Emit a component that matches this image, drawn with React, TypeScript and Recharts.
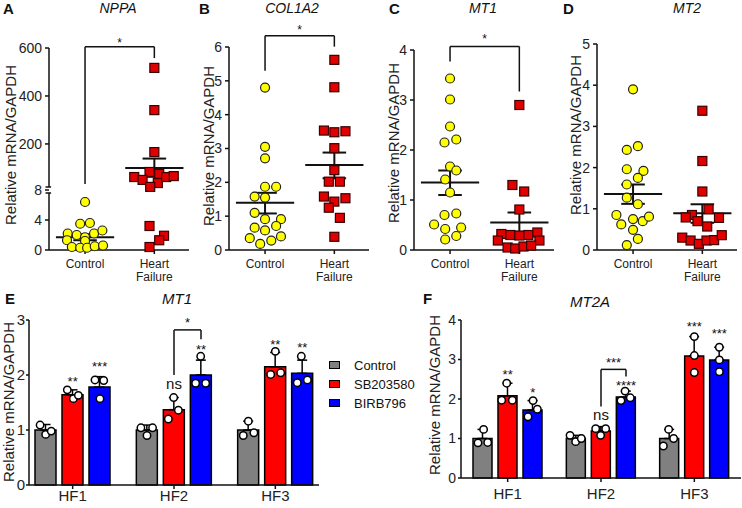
import React from "react";
import {
  ComposedChart,
  Scatter,
  Bar,
  XAxis,
  YAxis,
  ReferenceLine,
  ReferenceDot,
  ErrorBar,
} from "recharts";

const FONT = "'Liberation Sans', Arial, Helvetica, sans-serif";
const INK = "#111";
const TICK_INK = "#222";

// ---- top row: patient scatter panels (x = 1 Control, x = 2 Heart Failure) ----
const GROUP_LABELS = ["Control", "Heart\nFailure"];

// A: NPPA, broken axis 0-8 / 8-600
const NPPA_TICKS = [0, 4, 8, 200, 400, 600];
const NPPA_CTRL = [6.4, 3.5, 3.6, 2.2, 2.0, 1.7, 2.2, 2.6, 1.3, 1.2, 0.4, 0.3, 0.3, 0.5, 0.6];
const NPPA_CTRL_DX = [0, -0.07, 0.07, -0.25, -0.12, 0, 0.13, 0.25, -0.26, 0, -0.19, -0.07, 0.03, 0.14, 0.26];
const NPPA_HF = [517, 341, 166, 83, 75, 62, 50, 37, 62, 66, 21, 3.2, 1.9, 1.3, 0.4];
const NPPA_HF_DX = [0, 0, 0, -0.07, 0.07, -0.29, -0.17, 0.05, 0.17, 0.28, -0.06, -0.07, 0.14, 0.07, -0.07];
const NPPA_MEAN = [1.7, 100];
const NPPA_SEM = [[1.3, 2.1], [63, 139]];
const NPPA_BRACKET = { top: 605, left: 33, right: 558, star: 633 };

// B: COL1A2
const COL_TICKS = [0, 1, 2, 3, 4, 5, 6];
const COL_CTRL = [4.8, 3.05, 2.71, 1.87, 1.87, 1.58, 1.55, 1.1, 0.91, 0.91, 0.66, 0.58, 0.71, 0.35, 0.4, 0.18, 0.28];
const COL_CTRL_DX = [0, 0, 0, 0, 0.16, -0.15, 0, -0.15, 0, 0.23, -0.15, 0, 0.16, -0.22, 0.23, -0.07, 0.09];
const COL_HF = [5.62, 4.81, 3.53, 3.48, 3.51, 3.01, 2.36, 2.02, 2.02, 1.58, 1.43, 1.53, 1.25, 0.95, 0.39];
const COL_HF_DX = [0, 0, -0.15, 0, 0.16, 0, 0, -0.08, 0.08, -0.15, 0, 0.16, -0.08, 0.08, 0];
const COL_MEAN = [1.4, 2.51];
const COL_SEM = [[1.08, 1.69], [2.12, 2.88]];
const COL_BRACKET = { top: 6.33, left: 5.3, right: 6.01, star: 6.58 };

// C: MT1
const MT1_TICKS = [0, 1, 2, 3, 4];
const MT1_CTRL = [3.43, 3.01, 2.47, 2.15, 2.21, 1.67, 1.59, 1.41, 1.15, 0.7, 0.73, 0.51, 0.42, 0.45, 0.21, 0.28];
const MT1_CTRL_DX = [0, 0, 0, -0.08, 0.09, 0, 0.09, -0.07, 0, -0.08, 0.09, -0.23, -0.07, 0.16, -0.07, 0.09];
const MT1_HF = [2.9, 1.3, 1.17, 0.81, 0.32, 0.3, 0.29, 0.3, 0.35, 0.19, 0.19, 0.05, 0.03, 0.07, 0.09];
const MT1_HF_DX = [0, -0.1, 0.07, 0, -0.26, -0.13, 0, 0.13, 0.26, -0.31, 0.29, -0.17, -0.06, 0.06, 0.17];
const MT1_MEAN = [1.35, 0.55];
const MT1_SEM = [[1.1, 1.59], [0.33, 0.75]];
const MT1_BRACKET = { top: 4.07, left: 3.77, right: 3.17, star: 4.27 };

// D: MT2
const MT2_TICKS = [0, 1, 2, 3, 4, 5];
const MT2_CTRL = [3.9, 2.43, 2.52, 1.96, 1.92, 1.75, 1.59, 1.27, 1.11, 0.85, 0.75, 0.7, 0.81, 0.62, 0.49, 0.27, 0.12];
const MT2_CTRL_DX = [0, -0.09, 0.07, -0.09, 0.15, 0.07, -0.09, -0.09, 0.07, -0.24, 0, 0.14, 0.23, -0.17, 0, 0.07, -0.09];
const MT2_HF = [3.38, 2.16, 1.42, 0.99, 0.85, 0.79, 0.7, 0.78, 0.57, 0.3, 0.23, 0.15, 0.23, 0.24, 0.36];
const MT2_HF_DX = [0, 0, 0, 0.09, -0.15, -0.24, -0.07, 0.24, 0.07, -0.29, -0.17, -0.05, 0.06, 0.17, 0.28];
const MT2_MEAN = [1.36, 0.89];
const MT2_SEM = [[1.12, 1.59], [0.66, 1.11]];

// ---- bottom row: cultured slices, bars = mean, whisker = SD ----
const HF_CATS = ["HF1", "HF2", "HF3"];
const TREATMENTS = ["Control", "SB203580", "BIRB796"];
const BAR_COLORS = ["#808080", "#ff0000", "#0000ff"];

// E: MT1
const E_CTRL = [1.0, 1.0, 1.0];
const E_SB = [1.64, 1.37, 2.15];
const E_BIRB = [1.78, 2.0, 2.03];
const E_CTRL_SD = [0.1, 0.09, 0.16];
const E_SB_SD = [0.09, 0.22, 0.26];
const E_BIRB_SD = [0.19, 0.27, 0.24];
const E_CTRL_PTS = [[1.09, 0.92, 0.98], [1.04, 0.9, 1.04], [1.16, 0.9, 0.95]];
const E_SB_PTS = [[1.73, 1.57, 1.63], [1.59, 1.2, 1.36], [2.43, 2.01, 2.04]];
const E_BIRB_PTS = [[1.91, 1.9, 1.57], [2.34, 1.85, 1.85], [2.34, 1.86, 1.91]];
const E_CTRL_DX = [[-0.055, 0, 0.055], [-0.06, 0, 0.055], [0, -0.05, 0.055]];
const E_SB_DX = [[-0.053, 0.007, 0.056], [-0.003, -0.056, 0.043], [0, -0.046, 0.053]];
const E_BIRB_DX = [[-0.046, 0.04, 0.003], [-0.003, -0.053, 0.046], [-0.01, -0.05, 0.05]];
const E_MARKS = [
  { g: 0, b: 1, y: 1.94, t: "**" },
  { g: 0, b: 2, y: 2.21, t: "***" },
  { g: 1, b: 1, y: 1.82, t: "ns" },
  { g: 1, b: 2, y: 2.52, t: "**" },
  { g: 2, b: 1, y: 2.61, t: "**" },
  { g: 2, b: 2, y: 2.55, t: "**" },
];
const E_BRACKET = { g: 1, top: 2.82, left: 2.0, right: 2.65, star: 3.0, t: "*" };

// F: MT2A
const F_CTRL = [1.0, 1.0, 1.0];
const F_SB = [2.08, 1.19, 3.09];
const F_BIRB = [1.72, 2.05, 2.99];
const F_CTRL_SD = [0.23, 0.08, 0.23];
const F_SB_SD = [0.32, 0.11, 0.49];
const F_BIRB_SD = [0.24, 0.15, 0.32];
const F_CTRL_PTS = [[1.23, 0.89, 0.9], [1.08, 0.92, 1.0], [1.23, 0.81, 1.0]];
const F_SB_PTS = [[2.4, 1.97, 1.97], [1.25, 1.25, 1.08], [3.58, 3.1, 2.67]];
const F_BIRB_PTS = [[1.96, 1.74, 1.55], [2.2, 1.96, 2.03], [3.31, 2.99, 2.69]];
const F_CTRL_DX = [[0.01, -0.05, 0.054], [-0.064, -0.004, 0.057], [-0.007, -0.064, 0.046]];
const F_SB_DX = [[-0.01, -0.064, 0.05], [-0.057, 0.05, -0.004], [0, 0, 0]];
const F_BIRB_DX = [[0.004, 0.05, -0.05], [-0.01, -0.054, 0.046], [0, 0, 0]];
const F_MARKS = [
  { g: 0, b: 1, y: 2.69, t: "**" },
  { g: 0, b: 2, y: 2.25, t: "*" },
  { g: 1, b: 1, y: 1.57, t: "ns" },
  { g: 1, b: 2, y: 2.42, t: "****" },
  { g: 2, b: 1, y: 3.92, t: "***" },
  { g: 2, b: 2, y: 3.74, t: "***" },
];
const F_BRACKET = { g: 1, top: 2.75, left: 1.81, right: 2.57, star: 2.99, t: "***" };

// broken axis for NPPA: 0-8 keeps its units, 8-600 is squeezed into 18.93 units
const brk = (v: number) => (v <= 8 ? v : 8 + ((v - 8) * 18.93) / 592);
const ident = (v: number) => v;

const LINE = { stroke: INK, strokeWidth: 2, ifOverflow: "visible" as const };
const THIN = { stroke: INK, strokeWidth: 1.5, ifOverflow: "visible" as const };

function starText(t: string, fs: number) {
  const isStar = /^\*+$/.test(t);
  return (p: any) => (
    <text
      x={p.cx}
      y={p.cy + (isStar ? 0.57 : 0.28) * fs}
      textAnchor="middle"
      fontSize={fs}
      fontFamily={FONT}
      fill={INK}
    >
      {t}
    </text>
  );
}

const yellowDot = (p: any) => (
  <circle cx={p.cx} cy={p.cy} r={4.5} fill="#ffff00" stroke="#222" strokeWidth={1.2} />
);
const redSquare = (p: any) => (
  <rect x={p.cx - 4.5} y={p.cy - 4.5} width={9} height={9} fill="#e00000" stroke="#3a0000" strokeWidth={1.2} />
);
const whiteDot = (p: any) => (
  <circle cx={p.cx} cy={p.cy} r={3.7} fill="#fff" stroke="#000" strokeWidth={1.5} />
);

function CatTick(p: any) {
  const lines = GROUP_LABELS[Math.round(p.payload.value) - 1].split("\n");
  return (
    <text x={p.x} y={p.y} textAnchor="middle" fontSize={12} fill={TICK_INK} fontFamily={FONT}>
      {lines.map((l, i) => (
        <tspan key={i} x={p.x} dy={i === 0 ? "0.71em" : "1.1em"}>
          {l}
        </tspan>
      ))}
    </text>
  );
}

type Bracket = { top: number; left: number; right: number; star: number };

type SPProps = {
  left: number;
  axisTop: number;
  yMax: number;
  ticks: number[];
  ctrl: number[];
  ctrlDx: number[];
  hf: number[];
  hfDx: number[];
  mean: number[];
  sem: number[][];
  bracket?: Bracket;
  tf?: (v: number) => number;
  broken?: boolean;
};

const X0 = 0.48;
const X1 = 2.5;

function ScatterPanel({ left, axisTop, yMax, ticks, ctrl, ctrlDx, hf, hfDx, mean, sem, bracket, tf = ident, broken }: SPProps) {
  const ctrlPts = ctrl.map((v, i) => ({ x: 1 + ctrlDx[i], y: tf(v) }));
  const hfPts = hf.map((v, i) => ({ x: 2 + hfDx[i], y: tf(v) }));

  const stats: React.ReactNode[] = [];
  [1, 2].forEach((g, k) => {
    const m = tf(mean[k]);
    const lo = tf(sem[k][0]);
    const hi = tf(sem[k][1]);
    stats.push(
      <ReferenceLine key={"m" + g} segment={[{ x: g - 0.42, y: m }, { x: g + 0.42, y: m }]} {...LINE} />,
      <ReferenceLine key={"v" + g} segment={[{ x: g, y: lo }, { x: g, y: hi }]} {...LINE} />,
      <ReferenceLine key={"l" + g} segment={[{ x: g - 0.17, y: lo }, { x: g + 0.17, y: lo }]} {...LINE} />,
      <ReferenceLine key={"h" + g} segment={[{ x: g - 0.17, y: hi }, { x: g + 0.17, y: hi }]} {...LINE} />
    );
  });

  return (
    <div style={{ position: "absolute", left, top: 0 }}>
      <ComposedChart width={192} height={290} margin={{ top: axisTop, right: 3, bottom: 0, left: 0 }}>
        <XAxis
          type="number"
          dataKey="x"
          domain={[X0, X1]}
          ticks={[1, 2]}
          interval={0}
          tick={(p: any) => <CatTick {...p} />}
          tickSize={4}
          tickMargin={5}
          height={40}
          axisLine={{ stroke: INK, strokeWidth: 1.5 }}
          tickLine={{ stroke: INK, strokeWidth: 1.5 }}
        />
        <YAxis
          type="number"
          dataKey="y"
          domain={[0, yMax]}
          ticks={ticks.map(tf)}
          interval={0}
          tickFormatter={(_v: number, i: number) => String(ticks[i])}
          width={49}
          tickSize={4}
          tickMargin={3}
          axisLine={broken ? false : { stroke: INK, strokeWidth: 1.5 }}
          tickLine={{ stroke: INK, strokeWidth: 1.5 }}
          tick={{ fontSize: 14, fill: TICK_INK, fontFamily: FONT }}
        />
        {broken && [
          <ReferenceLine key="ax1" segment={[{ x: X0, y: 0 }, { x: X0, y: 7.6 }]} {...THIN} />,
          <ReferenceLine key="ax2" segment={[{ x: X0, y: 8.4 }, { x: X0, y: yMax }]} {...THIN} />,
          <ReferenceLine key="bk1" segment={[{ x: X0 - 0.05, y: 7.6 }, { x: X0 + 0.03, y: 7.6 }]} {...THIN} />,
          <ReferenceLine key="bk2" segment={[{ x: X0 - 0.05, y: 8.4 }, { x: X0 + 0.03, y: 8.4 }]} {...THIN} />,
        ]}
        <Scatter data={ctrlPts} shape={yellowDot} isAnimationActive={false} />
        <Scatter data={hfPts} shape={redSquare} isAnimationActive={false} />
        {stats}
        {bracket && [
          <ReferenceLine key="bl" segment={[{ x: 1, y: tf(bracket.left) }, { x: 1, y: tf(bracket.top) }]} {...THIN} />,
          <ReferenceLine key="bt" segment={[{ x: 1, y: tf(bracket.top) }, { x: 2, y: tf(bracket.top) }]} {...THIN} />,
          <ReferenceLine key="br" segment={[{ x: 2, y: tf(bracket.right) }, { x: 2, y: tf(bracket.top) }]} {...THIN} />,
          <ReferenceDot key="bs" x={1.5} y={tf(bracket.star)} r={0} ifOverflow="visible" shape={starText("*", 12)} />,
        ]}
      </ComposedChart>
    </div>
  );
}

type Mark = { g: number; b: number; y: number; t: string };
type BarBracket = { g: number; top: number; left: number; right: number; star: number; t: string };

type BPProps = {
  left: number;
  width: number;
  yw: number;
  yMax: number;
  yTicks: number[];
  yFs: number;
  yTickMargin: number;
  pad: number;
  barSize: number;
  barGap: number;
  off: number;
  xh: number;
  xTickMargin: number;
  vals: number[][];
  sds: number[][];
  pts: number[][][];
  dx: number[][][];
  marks: Mark[];
  bracket: BarBracket;
};

function BarPanel(p: BPProps) {
  const rows = HF_CATS.map((c, i) => ({
    name: c,
    ctrl: p.vals[0][i],
    sb: p.vals[1][i],
    birb: p.vals[2][i],
    ctrlErr: [0, p.sds[0][i]],
    sbErr: [0, p.sds[1][i]],
    birbErr: [0, p.sds[2][i]],
  }));
  const dots: { x: number; y: number }[] = [];
  HF_CATS.forEach((_c, g) => {
    [0, 1, 2].forEach((b) => {
      p.pts[b][g].forEach((v, k) => {
        dots.push({ x: g + 0.5 + (b - 1) * p.off + p.dx[b][g][k], y: v });
      });
    });
  });
  const cx = (g: number, b: number) => g + 0.5 + (b - 1) * p.off;
  const br = p.bracket;
  const keys = ["ctrl", "sb", "birb"];

  return (
    <div style={{ position: "absolute", left: p.left, top: 255 }}>
      <ComposedChart
        width={p.width}
        height={253}
        data={rows}
        margin={{ top: 65, right: 1, bottom: 0, left: 0 }}
        barGap={p.barGap}
      >
        <XAxis
          xAxisId="cat"
          dataKey="name"
          padding={{ left: p.pad, right: p.pad }}
          tickSize={4}
          tickMargin={p.xTickMargin}
          height={p.xh}
          axisLine={{ stroke: INK, strokeWidth: 1.5 }}
          tickLine={{ stroke: INK, strokeWidth: 1.5 }}
          tick={{ fontSize: 15, fill: TICK_INK, fontFamily: FONT }}
        />
        <XAxis
          xAxisId="num"
          dataKey="x"
          type="number"
          domain={[0, 3]}
          padding={{ left: p.pad, right: p.pad }}
          hide
        />
        <YAxis
          type="number"
          domain={[0, p.yMax]}
          ticks={p.yTicks}
          interval={0}
          width={p.yw}
          tickSize={3}
          tickMargin={p.yTickMargin}
          axisLine={{ stroke: INK, strokeWidth: 1.5 }}
          tickLine={{ stroke: INK, strokeWidth: 1.5 }}
          tick={{ fontSize: p.yFs, fill: TICK_INK, fontFamily: FONT }}
        />
        {keys.map((k, b) => (
          <Bar
            key={k}
            xAxisId="cat"
            dataKey={k}
            name={TREATMENTS[b]}
            fill={BAR_COLORS[b]}
            stroke="#000"
            strokeWidth={1.5}
            barSize={p.barSize}
            isAnimationActive={false}
          >
            <ErrorBar dataKey={k + "Err"} direction="y" width={5} stroke="#000" strokeWidth={1.5} />
          </Bar>
        ))}
        <Scatter xAxisId="num" data={dots} dataKey="y" shape={whiteDot} isAnimationActive={false} />
        {p.marks.map((m, i) => (
          <ReferenceDot
            key={"mk" + i}
            xAxisId="num"
            x={cx(m.g, m.b)}
            y={m.y}
            r={0}
            ifOverflow="visible"
            shape={starText(m.t, m.t === "ns" ? 15 : 13)}
          />
        ))}
        <ReferenceLine xAxisId="num" segment={[{ x: cx(br.g, 1), y: br.left }, { x: cx(br.g, 1), y: br.top }]} {...THIN} />
        <ReferenceLine xAxisId="num" segment={[{ x: cx(br.g, 1), y: br.top }, { x: cx(br.g, 2), y: br.top }]} {...THIN} />
        <ReferenceLine xAxisId="num" segment={[{ x: cx(br.g, 2), y: br.right }, { x: cx(br.g, 2), y: br.top }]} {...THIN} />
        <ReferenceDot
          xAxisId="num"
          x={(cx(br.g, 1) + cx(br.g, 2)) / 2}
          y={br.star}
          r={0}
          ifOverflow="visible"
          shape={starText(br.t, 13)}
        />
      </ComposedChart>
    </div>
  );
}

function Txt({ x, y, children, size = 14, bold = false, italic = false, center = false }: any) {
  return (
    <div
      style={{
        position: "absolute",
        left: x,
        top: y,
        transform: `translate(${center ? "-50%" : "0"}, -50%)`,
        fontSize: size,
        fontWeight: bold ? 700 : 400,
        fontStyle: italic ? "italic" : "normal",
        lineHeight: 1,
        whiteSpace: "nowrap",
        color: INK,
        fontFamily: FONT,
      }}
    >
      {children}
    </div>
  );
}

function VLabel({ x, y }: { x: number; y: number }) {
  return (
    <div
      style={{
        position: "absolute",
        left: x,
        top: y,
        transform: "translate(-50%, -50%) rotate(-90deg)",
        fontSize: 15,
        lineHeight: 1,
        whiteSpace: "nowrap",
        color: TICK_INK,
        fontFamily: FONT,
      }}
    >
      Relative mRNA/GAPDH
    </div>
  );
}

function Legend() {
  return (
    <>
      {TREATMENTS.map((t, i) => (
        <div key={t}>
          <div
            style={{
              position: "absolute",
              left: 329,
              top: 365 + i * 19 - 4,
              width: 9,
              height: 6,
              background: BAR_COLORS[i],
              border: "1.5px solid #000",
            }}
          />
          <Txt x={354} y={365 + i * 19} size={13}>
            {t}
          </Txt>
        </div>
      ))}
    </>
  );
}

export default function App() {
  return (
    <div
      style={{
        position: "absolute",
        left: 0,
        top: 0,
        width: 742,
        height: 508,
        background: "#fff",
        overflow: "hidden",
        fontFamily: FONT,
      }}
    >
      <ScatterPanel
        left={0}
        axisTop={48}
        yMax={brk(600)}
        ticks={NPPA_TICKS}
        tf={brk}
        broken
        ctrl={NPPA_CTRL}
        ctrlDx={NPPA_CTRL_DX}
        hf={NPPA_HF}
        hfDx={NPPA_HF_DX}
        mean={NPPA_MEAN}
        sem={NPPA_SEM}
        bracket={NPPA_BRACKET}
      />
      <ScatterPanel
        left={180}
        axisTop={47}
        yMax={6}
        ticks={COL_TICKS}
        ctrl={COL_CTRL}
        ctrlDx={COL_CTRL_DX}
        hf={COL_HF}
        hfDx={COL_HF_DX}
        mean={COL_MEAN}
        sem={COL_SEM}
        bracket={COL_BRACKET}
      />
      <ScatterPanel
        left={365}
        axisTop={50}
        yMax={4}
        ticks={MT1_TICKS}
        ctrl={MT1_CTRL}
        ctrlDx={MT1_CTRL_DX}
        hf={MT1_HF}
        hfDx={MT1_HF_DX}
        mean={MT1_MEAN}
        sem={MT1_SEM}
        bracket={MT1_BRACKET}
      />
      <ScatterPanel
        left={548}
        axisTop={44}
        yMax={5}
        ticks={MT2_TICKS}
        ctrl={MT2_CTRL}
        ctrlDx={MT2_CTRL_DX}
        hf={MT2_HF}
        hfDx={MT2_HF_DX}
        mean={MT2_MEAN}
        sem={MT2_SEM}
      />

      <BarPanel
        left={0}
        width={320}
        yw={29}
        yMax={3}
        yTicks={[0, 1, 2, 3]}
        yFs={15}
        yTickMargin={1}
        pad={-7}
        barSize={21}
        barGap={6}
        off={27 / 101.33}
        xh={23}
        xTickMargin={1}
        vals={[E_CTRL, E_SB, E_BIRB]}
        sds={[E_CTRL_SD, E_SB_SD, E_BIRB_SD]}
        pts={[E_CTRL_PTS, E_SB_PTS, E_BIRB_PTS]}
        dx={[E_CTRL_DX, E_SB_DX, E_BIRB_DX]}
        marks={E_MARKS}
        bracket={E_BRACKET}
      />
      <BarPanel
        left={400}
        width={342}
        yw={61}
        yMax={4}
        yTicks={[0, 1, 2, 3, 4]}
        yFs={14}
        yTickMargin={2}
        pad={0}
        barSize={19}
        barGap={6}
        off={25 / 93.33}
        xh={30}
        xTickMargin={6}
        vals={[F_CTRL, F_SB, F_BIRB]}
        sds={[F_CTRL_SD, F_SB_SD, F_BIRB_SD]}
        pts={[F_CTRL_PTS, F_SB_PTS, F_BIRB_PTS]}
        dx={[F_CTRL_DX, F_SB_DX, F_BIRB_DX]}
        marks={F_MARKS}
        bracket={F_BRACKET}
      />

      <Txt x={3} y={8} size={15} bold>A</Txt>
      <Txt x={199} y={8} size={15} bold>B</Txt>
      <Txt x={389} y={8} size={15} bold>C</Txt>
      <Txt x={563} y={8} size={15} bold>D</Txt>
      <Txt x={5} y={298} size={15} bold>E</Txt>
      <Txt x={423} y={298} size={15} bold>F</Txt>

      <Txt x={118} y={8} size={14} italic center>NPPA</Txt>
      <Txt x={292} y={8} size={14} italic center>COL1A2</Txt>
      <Txt x={483} y={8} size={14} italic center>MT1</Txt>
      <Txt x={687} y={8} size={14} italic center>MT2</Txt>
      <Txt x={177} y={298} size={15} italic center>MT1</Txt>
      <Txt x={590} y={301} size={15} italic center>MT2A</Txt>

      <VLabel x={10} y={145} />
      <VLabel x={208} y={146} />
      <VLabel x={393} y={143} />
      <VLabel x={575} y={135} />
      <VLabel x={8} y={402} />
      <VLabel x={434} y={395} />

      <Legend />
    </div>
  );
}
